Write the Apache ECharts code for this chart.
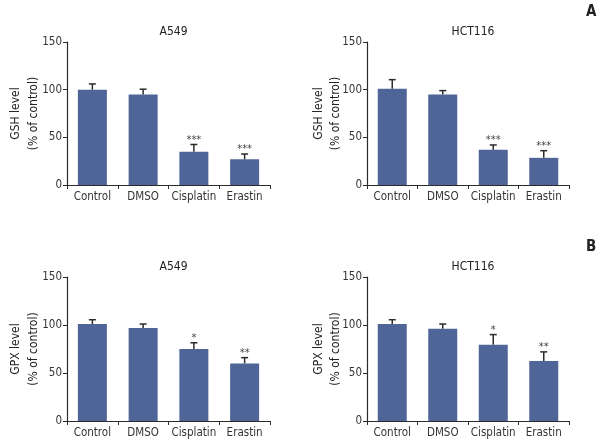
<!DOCTYPE html>
<html><head><meta charset="utf-8">
<script src="https://cdn.jsdelivr.net/npm/echarts@6/dist/echarts.min.js"></script>
<style>html,body{margin:0;padding:0;background:#fff}#c{width:612px;height:444px}</style>
</head><body><div id="c"></div>
<script>
const categories = ['Control', 'DMSO', 'Cisplatin', 'Erastin'];
const yTicks = [0, 50, 100, 150];
const gshA549 = [100, 95, 35, 27];
const gshA549Err = [6, 5.5, 7.5, 5.5];
const gshHCT = [101, 95, 37, 28.5];
const gshHCTErr = [9.5, 4, 5, 7.5];
const gpxA549 = [101, 97, 75, 60];
const gpxA549Err = [4.5, 4, 6.5, 6];
const gpxHCT = [101, 96, 79.5, 62.5];
const gpxHCTErr = [4.5, 5, 10.5, 9.5];
const gshStars = ['', '', '***', '***'];
const gpxStars = ['', '', '*', '**'];
const panelTitles = ['A549', 'HCT116', 'A549', 'HCT116'];
const yNames = ['GSH level\n(% of control)', 'GSH level\n(% of control)', 'GPX level\n(% of control)', 'GPX level\n(% of control)'];

const FONT = '"Liberation Sans Narrow", "DejaVu Sans Condensed", "Roboto", sans-serif';
const BAR = '#4f6597';
const INK = '#2b2b2b';

const panels = [
  {vals: gshA549, err: gshA549Err, stars: gshStars},
  {vals: gshHCT, err: gshHCTErr, stars: gshStars},
  {vals: gpxA549, err: gpxA549Err, stars: gpxStars},
  {vals: gpxHCT, err: gpxHCTErr, stars: gpxStars}
];
const grids = [
  {left: 67, top: 42, width: 203, height: 143},
  {left: 367, top: 42, width: 202, height: 143},
  {left: 67, top: 277, width: 203, height: 144},
  {left: 367, top: 277, width: 202, height: 144}
];
const nameGaps = [24, 23, 24, 23];
const nameLineHeights = [18, 17, 18, 17];

const option = {
  animation: false,
  backgroundColor: '#fff',
  textStyle: {fontFamily: FONT},
  title: panelTitles.map((t, i) => ({
    text: t,
    left: grids[i].left + grids[i].width / 2,
    top: grids[i].top - 21,
    textAlign: 'center',
    textStyle: {fontFamily: FONT, fontSize: 12, fontWeight: 'normal', color: '#222'}
  })).concat([
    {text: 'A', left: 581, top: 0, textStyle: {fontFamily: FONT, fontSize: 15, fontWeight: 'bold', color: '#222'}},
    {text: 'B', left: 581, top: 235, textStyle: {fontFamily: FONT, fontSize: 15, fontWeight: 'bold', color: '#222'}}
  ]),
  grid: grids,
  xAxis: grids.map((g, i) => ({
    type: 'category', gridIndex: i, data: categories,
    axisLine: {lineStyle: {color: INK, width: 1.2}},
    axisTick: {show: true, interval: 0, length: 4, lineStyle: {color: INK}},
    axisLabel: {fontFamily: FONT, fontSize: 11.5, color: '#333', margin: 6, interval: 0}
  })),
  yAxis: grids.map((g, i) => ({
    type: 'value', gridIndex: i, min: 0, max: 150, interval: 50,
    name: yNames[i], nameLocation: 'middle', nameRotate: 90, nameGap: nameGaps[i],
    nameMoveOverlap: false,
    nameTextStyle: {fontFamily: FONT, fontSize: 12, color: '#222', lineHeight: nameLineHeights[i]},
    axisLine: {show: true, lineStyle: {color: INK, width: 1.2}},
    axisTick: {show: true, length: 4, lineStyle: {color: INK}},
    splitLine: {show: false},
    axisLabel: {fontFamily: FONT, fontSize: 11.5, color: '#333', margin: 5}
  })),
  series: []
};

panels.forEach((p, i) => {
  option.series.push({
    type: 'bar', xAxisIndex: i, yAxisIndex: i, data: p.vals,
    barWidth: 29, itemStyle: {color: BAR}
  });
  option.series.push({
    type: 'custom', xAxisIndex: i, yAxisIndex: i,
    data: p.vals.map((v, k) => [k, v, v + p.err[k]]),
    z: 5,
    renderItem: function (params, api) {
      const k = api.value(0);
      const base = api.coord([k, api.value(1)]);
      const top = api.coord([k, api.value(2)]);
      const half = 3.5;
      const children = [
        {type: 'line', shape: {x1: base[0], y1: base[1], x2: top[0], y2: top[1]}, style: {stroke: INK, lineWidth: 1.5}},
        {type: 'line', shape: {x1: top[0] - half, y1: top[1], x2: top[0] + half, y2: top[1]}, style: {stroke: INK, lineWidth: 1.5}}
      ];
      const s = p.stars[k];
      if (s) {
        children.push({type: 'text', style: {text: s, x: top[0], y: top[1] + 1, textAlign: 'center', textVerticalAlign: 'bottom', fontSize: 11, fontFamily: FONT, fill: '#444'}});
      }
      return {type: 'group', children: children};
    }
  });
});

const chart = echarts.init(document.getElementById('c'), null, {renderer: 'canvas'});
chart.setOption(option);
</script></body></html>
